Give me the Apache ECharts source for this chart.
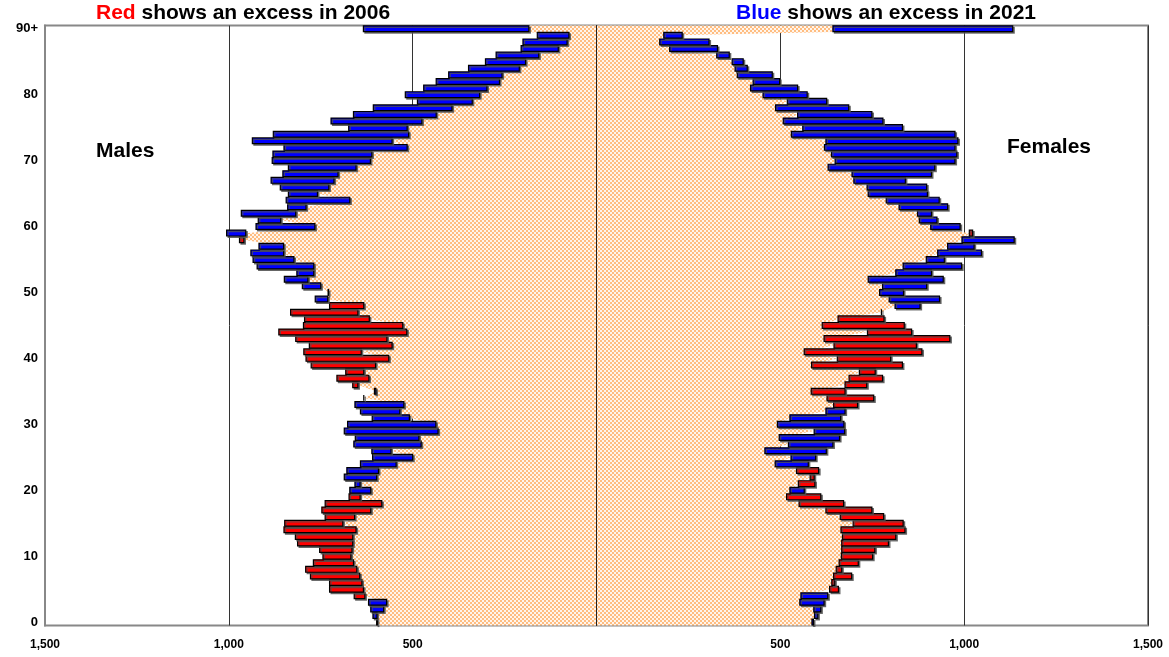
<!DOCTYPE html>
<html>
<head>
<meta charset="utf-8">
<script src="https://cdn.jsdelivr.net/npm/echarts@6/dist/echarts.min.js"></script>
<style>
html,body{margin:0;padding:0;background:#fff;}
#chart{width:1169px;height:657px;}
</style>
</head>
<body>
<div id="chart"></div>
<script>
// Age categories 0 .. 90+
const ages = [];
for (let i = 0; i <= 90; i++) ages.push(i === 90 ? '90+' : String(i));
const ageTickLabels = ['0','10','20','30','40','50','60','70','80','90+'];
const xTickLabels = ['1,500','1,000','500','','500','1,000','1,500'];

// Population by single year of age (index = age)
const male2006 = [598,597,579,571,659,726,726,778,791,770,
  744,753,813,819,850,848,738,747,738,673,
  614,643,598,593,545,500,559,477,483,431,
  437,509,535,524,633,600,663,706,682,776,
  790,796,781,818,864,797,794,832,726,731,
  729,750,785,769,769,823,851,851,971,954,
  766,859,818,790,671,759,728,714,703,654,
  615,611,515,556,511,515,475,436,393,338,
  318,298,264,257,210,193,157,104,80,75,
  184];
const male2021 = [596,608,614,620,630,634,638,644,652,661,
  668,665,663,663,654,690,658,614,584,643,
  671,657,686,679,642,609,611,660,656,686,
  677,610,642,657,633,604,649,619,633,601,
  565,640,556,570,516,527,618,649,633,765,
  730,800,849,815,923,934,940,918,959,1006,
  926,920,966,840,844,838,860,885,853,838,
  882,880,850,936,879,674,722,661,607,487,
  520,470,436,402,348,302,273,205,200,161,
  634];
const female2006 = [586,593,591,553,556,658,648,694,667,712,
  751,757,794,814,839,834,781,749,672,610,
  526,594,592,604,486,529,458,522,497,592,
  492,526,624,710,754,676,735,778,758,832,
  800,885,870,961,857,837,782,775,812,796,
  770,778,739,814,834,897,928,955,994,1023,
  909,878,873,823,788,739,736,700,695,630,
  649,639,620,624,530,561,508,547,487,519,
  453,419,426,383,377,369,327,199,172,183,
  643];
const female2021 = [590,602,610,619,629,634,640,645,652,660,
  666,667,667,669,665,698,663,624,551,517,
  565,549,581,544,576,596,625,643,661,675,
  673,664,676,645,627,584,676,687,715,585,
  655,565,646,619,737,614,657,775,880,933,
  835,898,943,911,993,946,1047,1027,1136,1014,
  989,926,911,955,932,900,898,840,911,920,
  975,980,975,983,975,832,779,749,686,626,
  573,547,498,478,410,399,361,329,306,233,
  1132];

// checker pattern
const pc = document.createElement('canvas');
pc.width = 4; pc.height = 4;
const pctx = pc.getContext('2d');
pctx.fillStyle = '#FFF5EC'; pctx.fillRect(0,0,4,4);
pctx.fillStyle = '#FFBD80'; pctx.fillRect(0,0,2,2); pctx.fillRect(2,2,2,2);
const checker = {image: pc, repeat: 'repeat'};

// build series data
const barData = [];
for (let a = 0; a < ages.length; a++) {
  barData.push([-male2006[a], a, -male2021[a], male2006[a] > male2021[a] ? 1 : 0]);
  barData.push([female2006[a], a, female2021[a], female2006[a] > female2021[a] ? 1 : 0]);
}
const minMale = male2006.map((v, i) => Math.min(v, male2021[i]));
const minFemale = female2006.map((v, i) => Math.min(v, female2021[i]));

function renderChecker(params, api) {
  const side = params.dataIndex; // 0 male, 1 female
  const sign = side === 0 ? -1 : 1;
  const mins = side === 0 ? minMale : minFemale;
  const h = api.size([0, 1])[1];
  const n = mins.length;
  const pts = [];
  const b0 = api.coord([0, 0]);
  pts.push([b0[0], b0[1] + h / 2]);
  const m0 = api.coord([sign * mins[0], 0]);
  pts.push([m0[0], m0[1] + h / 2]);
  for (let a = 0; a < n - 1; a++) pts.push(api.coord([sign * mins[a], a]));
  // open-ended 90+ group drawn as a full-height block
  const mt = api.coord([sign * mins[n - 1], n - 1]);
  pts.push([mt[0], mt[1] + h / 2]);
  pts.push([mt[0], mt[1] - h / 2]);
  const bt = api.coord([0, n - 1]);
  pts.push([bt[0], bt[1] - h / 2]);
  return {type: 'polygon', shape: {points: pts}, style: {fill: checker, stroke: null}};
}

function renderBar(params, api) {
  const idx = api.value(1);
  const p1 = api.coord([api.value(0), idx]);
  const p2 = api.coord([api.value(2), idx]);
  const h = api.size([0, 1])[1];
  const x = Math.min(p1[0], p2[0]);
  const w = Math.abs(p2[0] - p1[0]);
  return {
    type: 'rect',
    shape: {x: x, y: p1[1] - h / 2 + 0.3, width: w, height: h - 0.8},
    style: {
      fill: api.value(3) ? '#ff0000' : '#0000ff',
      stroke: '#000', lineWidth: 1.2,
      shadowColor: 'rgba(80,80,80,0.8)', shadowOffsetX: 1.5, shadowOffsetY: 1.5, shadowBlur: 0
    }
  };
}

const FONT = 'Liberation Sans, Arial, sans-serif';
const TS = 21;
const chart = echarts.init(document.getElementById('chart'), null, {renderer: 'canvas'});
chart.setOption({
  animation: false,
  backgroundColor: '#fff',
  title: [
    {text: '{r|Red} shows an excess in 2006', left: 96, top: 3, padding: 0,
     textStyle: {fontSize: TS, fontWeight: 'bold', fontFamily: FONT, color: '#000',
       rich: {r: {color: '#ff0000', fontSize: TS, fontWeight: 'bold', fontFamily: FONT}}}},
    {text: '{b|Blue} shows an excess in 2021', left: 736, top: 3, padding: 0,
     textStyle: {fontSize: TS, fontWeight: 'bold', fontFamily: FONT, color: '#000',
       rich: {b: {color: '#0000ff', fontSize: TS, fontWeight: 'bold', fontFamily: FONT}}}},
    {text: 'Males', left: 96, top: 141, padding: 0,
     textStyle: {fontSize: TS, fontWeight: 'bold', fontFamily: FONT, color: '#000'}},
    {text: 'Females', left: 1007, top: 137, padding: 0,
     textStyle: {fontSize: TS, fontWeight: 'bold', fontFamily: FONT, color: '#000'}}
  ],
  grid: {left: 45, right: 21, top: 25.5, height: 600, show: true,
         borderColor: '#888', borderWidth: 2, backgroundColor: 'transparent'},
  xAxis: {
    type: 'value', min: -1500, max: 1500, interval: 500,
    axisLine: {onZero: false, lineStyle: {color: '#888', width: 3}},
    axisTick: {length: 8, lineStyle: {color: '#444', width: 1}},
    axisLabel: {margin: 13, fontSize: 12, fontWeight: 'bold', color: '#000',
      fontFamily: 'Liberation Sans Narrow, Liberation Sans, Arial',
      formatter: function (v) { return xTickLabels[Math.round((v + 1500) / 500)]; }},
    splitLine: {show: true, lineStyle: {color: '#333', width: 1}}
  },
  yAxis: [
    {
      type: 'category', data: ages, gridIndex: 0,
      axisLine: {onZero: false, lineStyle: {color: '#888', width: 2}},
      axisTick: {interval: 0, alignWithLabel: true, length: 8, lineStyle: {color: '#333'}},
      axisLabel: {
        interval: function (i) { return i % 10 === 0; },
        formatter: function (v, i) { return ageTickLabels[i / 10]; },
        fontSize: 13, fontWeight: 'bold', color: '#000', fontFamily: FONT, margin: 7
      },
      splitLine: {show: false}
    },
    {
      type: 'category', data: ages, gridIndex: 0, z: 10,
      axisLine: {onZero: true, lineStyle: {color: '#222', width: 1}},
      axisTick: {interval: 0, alignWithLabel: true, length: 7, lineStyle: {color: '#333'}},
      axisLabel: {show: false},
      splitLine: {show: false}
    }
  ],
  series: [
    {
      type: 'custom', name: 'common', yAxisIndex: 0, z: 1,
      data: [[0, 0], [0, 0]],
      encode: {x: 0, y: 1},
      renderItem: renderChecker,
      silent: true
    },
    {
      type: 'custom', name: 'excess', yAxisIndex: 0, z: 3,
      data: barData,
      encode: {x: [0, 2], y: 1},
      renderItem: renderBar,
      silent: true
    }
  ]
});
</script>
</body>
</html>
